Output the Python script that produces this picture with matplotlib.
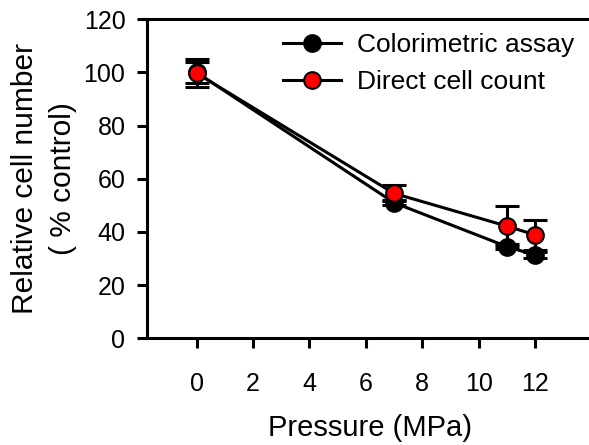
import numpy as np
import matplotlib
matplotlib.use("Agg")
import matplotlib.pyplot as plt

plt.rcParams['font.family'] = ['Liberation Sans', 'DejaVu Sans']

# data
pressure = [0, 7, 11, 12]
colorimetric = [100.0, 51.0, 34.5, 31.3]
colorimetric_err = [4.0, 1.0, 1.0, 1.0]
cell_count = [99.7, 54.5, 42.2, 38.9]
cell_count_err = [5.3, 3.0, 7.6, 5.5]

xticks = [0, 2, 4, 6, 8, 10, 12]
yticks = [0, 20, 40, 60, 80, 100, 120]

W, H = 589, 445
fig = plt.figure(figsize=(W / 100, H / 100), dpi=100)
ax = fig.add_axes([147 / W, (H - 338.3) / H, 444.5 / W, 319.0 / H])

lw = 2.2
# error bars first so markers sit on top
ax.errorbar(pressure, colorimetric, yerr=colorimetric_err, fmt='none',
            ecolor='black', elinewidth=lw, capsize=8.5, capthick=lw, zorder=2)
ax.errorbar(pressure, cell_count, yerr=cell_count_err, fmt='none',
            ecolor='black', elinewidth=lw, capsize=8.5, capthick=lw, zorder=2)
ax.plot(pressure, colorimetric, '-o', color='black', lw=lw, ms=12,
        mfc='black', mec='black', mew=1.5, label='Colorimetric assay', zorder=3)
ax.plot(pressure, cell_count, '-o', color='black', lw=lw, ms=12,
        mfc='red', mec='black', mew=1.5, label='Direct cell count', zorder=4)

ax.set_xlim(-1.76, 14.0)
ax.set_ylim(0, 120)
ax.set_xticks(xticks)
ax.set_yticks(yticks)

for s in ['left', 'bottom', 'top']:
    ax.spines[s].set_linewidth(lw)
ax.spines['right'].set_visible(False)

ax.tick_params(axis='both', direction='out', width=lw, length=7.5,
               labelsize=18)
ax.tick_params(axis='y', pad=8)
ax.tick_params(axis='x', pad=17)

ax.set_xlabel('Pressure (MPa)', fontsize=21)
ax.xaxis.set_label_coords((370 - 147) / 444.5, -0.238)
ax.set_ylabel('Relative cell number\n( % control)', fontsize=21.5,
              linespacing=1.45)
ax.yaxis.set_label_coords((77 - 147) / 444.5, 0.5)

ax.legend(loc='upper left', bbox_to_anchor=(283 / W, 1 - 33 / H),
          bbox_transform=fig.transFigure, frameon=False, fontsize=19,
          handlelength=2.2, handletextpad=0.6, labelspacing=0.5,
          borderpad=0, borderaxespad=0)

fig.savefig('out.png', dpi=100)
